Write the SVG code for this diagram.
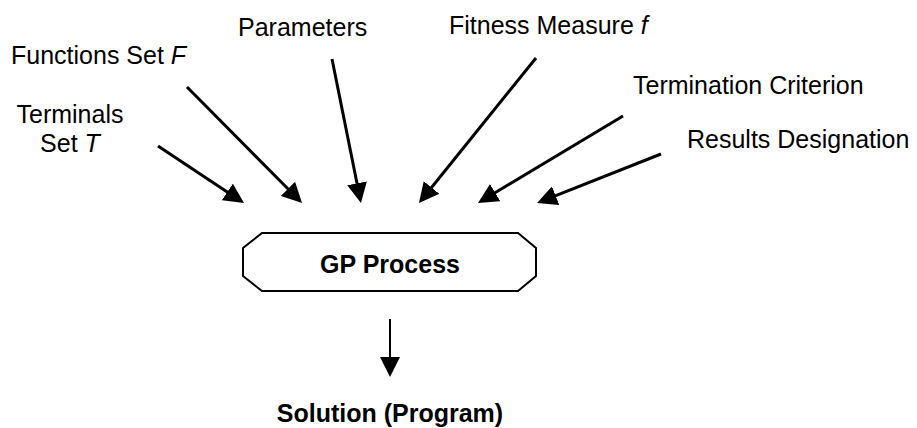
<svg xmlns="http://www.w3.org/2000/svg" width="917" height="428" viewBox="0 0 917 428">
  <style>
    .lbl { font-family: "Liberation Sans", Arial, sans-serif; font-size: 25px; fill: #000; }
    .bold { font-weight: bold; }
    .it { font-style: italic; }
    .in { stroke: #000; stroke-width: 3; fill: none; marker-end: url(#head); }
    .out { stroke: #000; stroke-width: 2; fill: none; marker-end: url(#head); }
    .box { fill: #fff; stroke: #000; stroke-width: 2; }
  </style>
  <defs>
    <marker id="head" markerUnits="userSpaceOnUse" markerWidth="20" markerHeight="20" refX="8" refY="10" orient="auto">
      <path d="M0,0 L20,10 L0,20 z" fill="#000"/>
    </marker>
  </defs>
  <rect width="917" height="428" fill="#fff"/>

  <!-- input labels -->
  <g id="terminals">
    <text class="lbl" x="70" y="123" text-anchor="middle">Terminals</text>
    <text class="lbl" x="70" y="152" text-anchor="middle">Set <tspan class="it">T</tspan></text>
  </g>
  <g id="functions">
    <text class="lbl" x="11" y="64">Functions Set <tspan class="it">F</tspan></text>
  </g>
  <g id="parameters">
    <text class="lbl" x="238" y="36">Parameters</text>
  </g>
  <g id="fitness">
    <text class="lbl" x="449" y="34">Fitness Measure <tspan class="it">f</tspan></text>
  </g>
  <g id="termination">
    <text class="lbl" x="633" y="94">Termination Criterion</text>
  </g>
  <g id="results">
    <text class="lbl" x="687" y="148">Results Designation</text>
  </g>

  <!-- central process -->
  <g id="gp-process">
    <polygon class="box" points="262,233 518,233 536,248 536,276 518,291 262,291 243,276 243,248"/>
    <text class="lbl bold" x="390" y="273" text-anchor="middle">GP Process</text>
  </g>

  <!-- result -->
  <g id="solution">
    <text class="lbl bold" x="390" y="422" text-anchor="middle">Solution (Program)</text>
  </g>

  <!-- connectors -->
  <g id="connectors">
    <line class="in" x1="158" y1="146" x2="234" y2="196.4"/>
    <line class="in" x1="187" y1="87" x2="293.6" y2="194.5"/>
    <line class="in" x1="332" y1="59" x2="358.6" y2="191.2"/>
    <line class="in" x1="536" y1="58" x2="426.5" y2="193.7"/>
    <line class="in" x1="623" y1="116" x2="488.3" y2="196.8"/>
    <line class="in" x1="661" y1="154" x2="548.2" y2="198.6"/>
    <line class="out" x1="390" y1="319" x2="390" y2="365"/>
  </g>
</svg>
